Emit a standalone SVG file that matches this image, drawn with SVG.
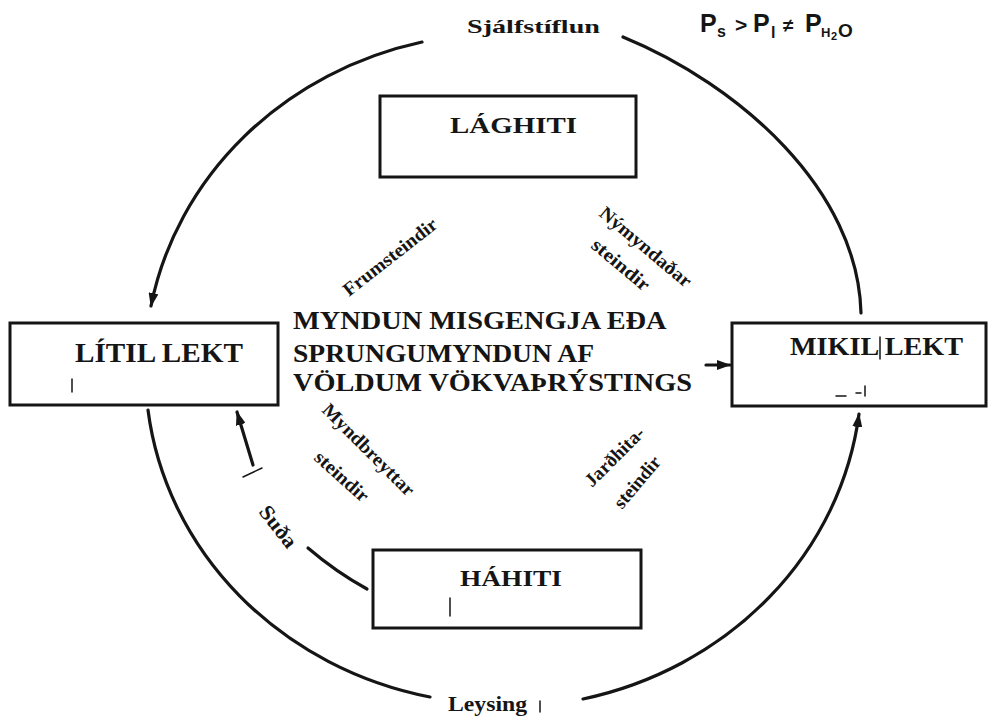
<svg xmlns="http://www.w3.org/2000/svg" width="989" height="718" viewBox="0 0 989 718">
<style>
.box{fill:#fff;stroke:#151515;stroke-width:3}
.t{font-family:"Liberation Serif","Times New Roman",serif;font-weight:bold;fill:#151515}
.f{font-family:"Liberation Sans",Arial,sans-serif;font-weight:bold;fill:#151515}
.arc{fill:none;stroke:#151515;stroke-width:3.2;stroke-linecap:round}
.mk{stroke:#151515;stroke-width:1.5;stroke-linecap:round}
</style>
<defs>
<marker id="ah" viewBox="0 0 14 10" refX="13" refY="5" markerWidth="14" markerHeight="10" markerUnits="userSpaceOnUse" orient="auto">
<path d="M0,0 L14,5 L0,10 z" fill="#151515"/>
</marker>
</defs>
<rect width="989" height="718" fill="#fff"/>

<g id="connectors">
<path class="arc" d="M422,42 A358,334 0 0 0 151,306" marker-end="url(#ah)"/>
<path class="arc" d="M623,37 C740,85 858,190 861,313"/>
<path class="arc" d="M583,699 A358,334 0 0 0 859,414" marker-end="url(#ah)"/>
<path class="arc" d="M148,410 A358,334 0 0 0 430,697"/>
<path class="arc" d="M253,465 L237,412" marker-end="url(#ah)"/>
<path class="arc" d="M308,548 Q336,572 367,589"/>
<path class="arc" d="M706,365 L730,365" marker-end="url(#ah)"/>
<path class="mk" d="M243,477 L262,468"/>
</g>

<g id="laghiti">
<rect class="box" x="380" y="96" width="256" height="81"/>
<text class="t" x="450" y="133" font-size="23" textLength="127" lengthAdjust="spacingAndGlyphs">LÁGHITI</text>
</g>

<g id="litil-lekt">
<rect class="box" x="10" y="323" width="268" height="82"/>
<text class="t" x="75" y="362" font-size="27" textLength="168" lengthAdjust="spacingAndGlyphs">LÍTIL LEKT</text>
<path class="mk" d="M72,379 L72,392"/>
</g>

<g id="mikil-lekt">
<rect class="box" x="732" y="323" width="254" height="83"/>
<text class="t" x="790" y="355" font-size="26" textLength="173" lengthAdjust="spacingAndGlyphs">MIKIL LEKT</text>
<path class="mk" d="M880,337 L880,359"/>
<path class="mk" d="M836,396 L846,396 M856,393 L861,393 M865,386 L865,396"/>
</g>

<g id="hahiti">
<rect class="box" x="373" y="550" width="268" height="78"/>
<text class="t" x="460" y="586" font-size="23" textLength="102" lengthAdjust="spacingAndGlyphs">HÁHITI</text>
<path class="mk" d="M450,598 L450,616"/>
</g>

<g id="center">
<text class="t" font-size="25">
<tspan x="293" y="329" textLength="372" lengthAdjust="spacingAndGlyphs">MYNDUN MISGENGJA EÐA</tspan>
<tspan x="293" y="362" textLength="300" lengthAdjust="spacingAndGlyphs">SPRUNGUMYNDUN AF</tspan>
<tspan x="293" y="391" textLength="399" lengthAdjust="spacingAndGlyphs">VÖLDUM VÖKVAÞRÝSTINGS</tspan>
</text>
</g>

<g id="labels">
<text class="t" x="467" y="33" font-size="19" textLength="133" lengthAdjust="spacingAndGlyphs">Sjálfstíflun</text>
<text class="t" x="448" y="711" font-size="20" textLength="79" lengthAdjust="spacingAndGlyphs">Leysing</text>
<path class="mk" d="M540,701 L540,712"/>
<text class="t" font-size="19" transform="translate(349,297) rotate(-38)" textLength="114" lengthAdjust="spacingAndGlyphs">Frumsteindir</text>
<text class="t" font-size="19" transform="translate(598,215) rotate(40)" textLength="114" lengthAdjust="spacingAndGlyphs">Nýmyndaðar</text>
<text class="t" font-size="19" transform="translate(590,247) rotate(40)" textLength="70" lengthAdjust="spacingAndGlyphs">steindir</text>
<text class="t" font-size="19" transform="translate(321,411) rotate(45)" textLength="122" lengthAdjust="spacingAndGlyphs">Myndbreyttar</text>
<text class="t" font-size="19" transform="translate(313,459) rotate(42)" textLength="66" lengthAdjust="spacingAndGlyphs">steindir</text>
<text class="t" font-size="19" transform="translate(592,488) rotate(-45)" textLength="76" lengthAdjust="spacingAndGlyphs">Jarðhita-</text>
<text class="t" font-size="19" transform="translate(622,510) rotate(-50)" textLength="62" lengthAdjust="spacingAndGlyphs">steindir</text>
<text class="t" font-size="21" transform="translate(258,512) rotate(52)" textLength="48" lengthAdjust="spacingAndGlyphs">Suða</text>
</g>

<g id="formula" class="f">
<text x="700" y="32" font-size="25">P</text>
<text x="717" y="37" font-size="16">s</text>
<text x="735" y="32" font-size="21">&gt;</text>
<text x="753" y="32" font-size="25">P</text>
<text x="771" y="38" font-size="16">l</text>
<text x="783" y="32" font-size="19">≠</text>
<text x="805" y="32" font-size="25">P</text>
<text x="821" y="37" font-size="13">H</text>
<text x="831" y="40" font-size="11">2</text>
<text x="838" y="37" font-size="19">O</text>
</g>
</svg>
